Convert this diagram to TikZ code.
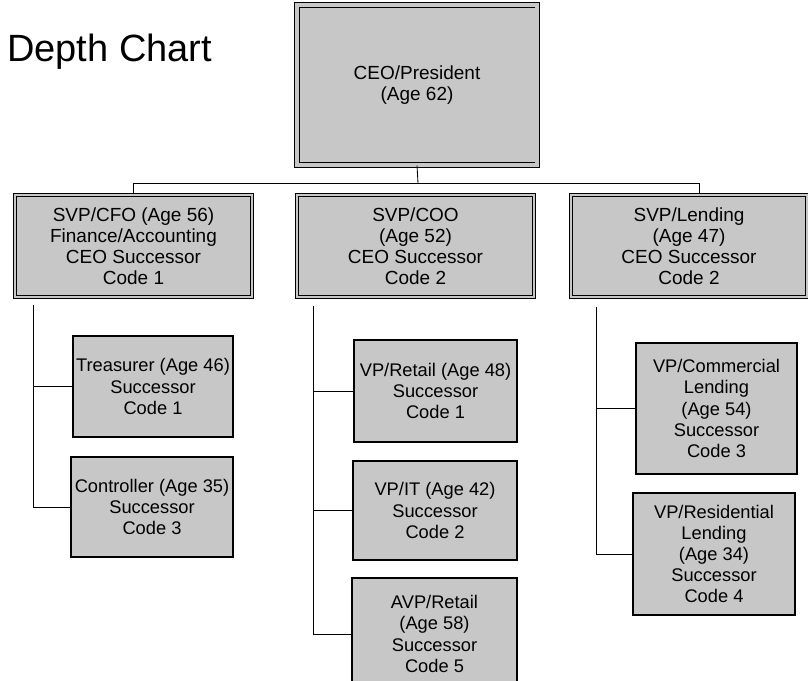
\documentclass[tikz,border=0pt]{standalone}
\usepackage{fontspec}
\setmainfont{Liberation Sans}
\usetikzlibrary{positioning}
\definecolor{boxgray}{gray}{0.78}
\tikzset{
    topnode/.style = {rectangle, draw=black, line width=0.7pt, double=boxgray, double distance=2.2pt, fill=boxgray, align=center, inner sep=0pt, font=\fontsize{13.5}{15}\selectfont},
    midnode/.style = {rectangle, draw=black, line width=0.7pt, double=boxgray, double distance=1.4pt, fill=boxgray, align=center, inner sep=0pt, minimum height=2.55cm, font=\fontsize{13.5}{15}\selectfont},
    lownode/.style = {rectangle, draw=black, line width=0.8pt, fill=boxgray, align=center, inner sep=0pt, font=\fontsize{13}{15}\selectfont},
    edgen/.style = {draw=black, line width=0.6pt}, % org lines
    titlenode/.style = {anchor=base west, inner sep=0pt, font=\fontsize{27}{30}\selectfont}
}
\begin{document}
\begin{tikzpicture}[x=0.025cm,y=-0.025cm]
\path[use as bounding box, clip] (0,0) rectangle (808,681);
%
\node[titlenode] at (7,62) (title) {Depth Chart};
%
\node[topnode, minimum width=6cm, minimum height=4cm] at (417,85) (ceo) {CEO/President\\(Age 62)};
%
\node[midnode, minimum width=5.925cm] at (133.5,246) (cfo) {SVP/CFO (Age 56)\\Finance/Accounting\\CEO Successor\\Code 1};
\node[midnode, minimum width=5.925cm] at (415.5,246) (coo) {SVP/COO\\(Age 52)\\CEO Successor\\Code 2};
\node[midnode, minimum width=5.9cm] at (689,246) (lend) {SVP/Lending\\(Age 47)\\CEO Successor\\Code 2};
%
\node[lownode, minimum width=4cm, minimum height=2.525cm] at (153,386.5) (treas) {Treasurer (Age 46)\\Successor\\Code 1};
\node[lownode, minimum width=4.05cm, minimum height=2.5cm] at (152,507) (ctrl) {Controller (Age 35)\\Successor\\Code 3};
%
\node[lownode, minimum width=4.075cm, minimum height=2.55cm] at (435.5,391) (retail) {VP/Retail (Age 48)\\Successor\\Code 1};
\node[lownode, minimum width=4.1cm, minimum height=2.475cm] at (435,510.5) (it) {VP/IT (Age 42)\\Successor\\Code 2};
\node[lownode, minimum width=4.125cm, minimum height=2.8cm] at (434.5,634) (avp) {AVP/Retail\\(Age 58)\\Successor\\Code 5};
%
\node[lownode, minimum width=4.025cm, minimum height=3.275cm] at (716.5,408.5) (comm) {VP/Commercial\\Lending\\(Age 54)\\Successor\\Code 3};
\node[lownode, minimum width=4.05cm, minimum height=3.05cm] at (714,554) (resi) {VP/Residential\\Lending\\(Age 34)\\Successor\\Code 4};
%
\coordinate (bus) at (418,183);
\coordinate (cfotrunk) at (33,305);
\coordinate (cootrunk) at (313,306);
\coordinate (lendtrunk) at (596,307);
%
\draw[edgen] (ceo.south) -- (bus);
\draw[edgen] (cfo.north) |- (bus);
\draw[edgen] (bus) -| ([xshift=0.25cm]lend.north);
%
\draw[edgen] (cfotrunk) |- (treas.west);
\draw[edgen] (cfotrunk) |- (ctrl.west);
\draw[edgen] (cootrunk) |- (retail.west);
\draw[edgen] (cootrunk) |- (it.west);
\draw[edgen] (cootrunk) |- (avp.west);
\draw[edgen] (lendtrunk) |- (comm.west);
\draw[edgen] (lendtrunk) |- (resi.west);

\end{tikzpicture}
\end{document}
